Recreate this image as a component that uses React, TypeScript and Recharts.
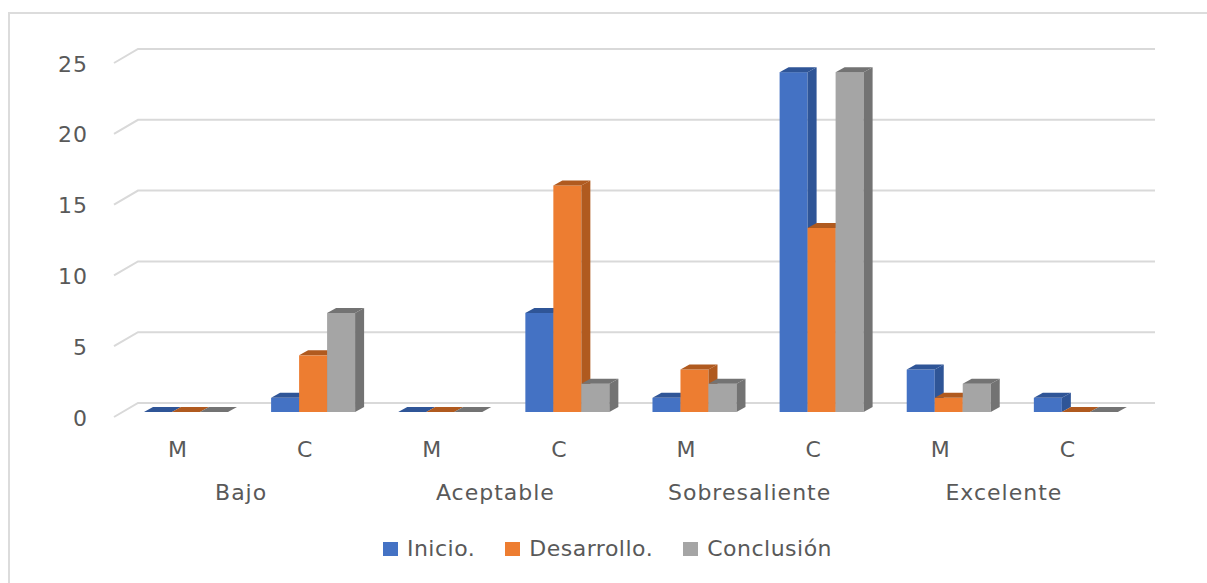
import React from "react"
import {
  BarChart,
  Bar,
  XAxis,
  YAxis,
  CartesianGrid,
  Legend,
} from "recharts"

// Niveles por categoría: M / C dentro de cada grupo
const subLabels = ["M", "C", "M", "C", "M", "C", "M", "C"]
const groupLabels = [
  "Bajo",
  "Bajo",
  "Aceptable",
  "Aceptable",
  "Sobresaliente",
  "Sobresaliente",
  "Excelente",
  "Excelente",
]
const inicio = [0, 1, 0, 7, 1, 24, 3, 1]
const desarrollo = [0, 4, 0, 16, 3, 13, 1, 0]
const conclusion = [0, 7, 0, 2, 2, 24, 2, 0]
const yTicks = [0, 5, 10, 15, 20, 25]

const series = [
  { key: "inicio", name: "Inicio.", front: "#4472c4", dark: "#2f5597" },
  { key: "desarrollo", name: "Desarrollo.", front: "#ed7d31", dark: "#b05a1f" },
  { key: "conclusion", name: "Conclusión", front: "#a5a5a5", dark: "#737373" },
]

const data = subLabels.map((sub, i) => ({
  sub,
  group: groupLabels[i],
  inicio: inicio[i],
  desarrollo: desarrollo[i],
  conclusion: conclusion[i],
}))

const W = 1199
const H = 575
const MARGIN = { top: 50, right: 67, bottom: 71, left: 35 }
const Y_AXIS_W = 80
const X_AXIS_H = 100
const PLOT_LEFT = MARGIN.left + Y_AXIS_W
const PLOT_W = W - PLOT_LEFT - MARGIN.right
const CAT_W = PLOT_W / subLabels.length

// profundidad del efecto 3D
const DX = 9
const DY = 5
// distancia entre el frente de las barras y la pared del fondo
const WALL_DX = 15
const WALL_DY = 9

const FONT = "'DejaVu Sans', sans-serif"
const TEXT = "#595959"

function make3DBar(front: string, dark: string) {
  return (props: any) => {
    const { x, y, width, height } = props
    if (x == null || y == null) return <g />
    const h = Math.max(0, height || 0)
    const r = x + width
    const b = y + h
    return (
      <g>
        <rect x={x} y={y} width={width} height={h} fill={front} />
        <polygon
          points={`${x},${y} ${x + DX},${y - DY} ${r + DX},${y - DY} ${r},${y}`}
          fill={dark}
        />
        <polygon
          points={`${r},${y} ${r + DX},${y - DY} ${r + DX},${b - DY} ${r},${b}`}
          fill={dark}
        />
      </g>
    )
  }
}

function GridLine(p: any) {
  const { x1, y1, x2 } = p
  return (
    <path
      key={p.key}
      d={`M${x1 - DX},${y1 + DY}L${x1 + WALL_DX},${y1 - WALL_DY}L${x2 + WALL_DX},${y1 - WALL_DY}`}
      stroke="#d9d9d9"
      strokeWidth={2}
      fill="none"
    />
  )
}

function YTick({ y, payload }: any) {
  return (
    <text
      x={PLOT_LEFT - 35}
      y={y + 6}
      textAnchor="end"
      dominantBaseline="central"
      fontFamily={FONT}
      fontSize={22}
      letterSpacing={1}
      fill={TEXT}
    >
      {payload.value}
    </text>
  )
}

function XTick({ x, index, payload }: any) {
  const bottom = H - MARGIN.bottom - X_AXIS_H
  const cx = x - DX
  return (
    <g>
      <text
        x={cx}
        y={bottom + 37}
        textAnchor="middle"
        dominantBaseline="central"
        fontFamily={FONT}
        fontSize={22}
        fill={TEXT}
      >
        {payload.value}
      </text>
      {index % 2 === 0 && (
        <text
          x={cx + CAT_W / 2}
          y={bottom + 80}
          textAnchor="middle"
          dominantBaseline="central"
          fontFamily={FONT}
          fontSize={22}
          letterSpacing={1}
          fill={TEXT}
        >
          {groupLabels[index]}
        </text>
      )}
    </g>
  )
}

function LegendContent() {
  return (
    <div
      style={{
        display: "flex",
        justifyContent: "center",
        gap: 30,
        fontFamily: FONT,
        fontSize: 22,
        letterSpacing: 0.5,
        color: TEXT,
        lineHeight: "26px",
      }}
    >
      {series.map((s) => (
        <span key={s.key} style={{ display: "flex", alignItems: "center", gap: 9 }}>
          <span style={{ width: 15, height: 14, background: s.front, display: "inline-block" }} />
          {s.name}
        </span>
      ))}
    </div>
  )
}

export default function App() {
  return (
    <div
      style={{
        position: "fixed",
        left: 0,
        top: 0,
        width: 1207,
        height: 583,
        overflow: "hidden",
        background: "#fff",
      }}
    >
      {/* marco del gráfico, abierto por la derecha y por abajo */}
      <div
        style={{
          position: "absolute",
          left: 8,
          top: 12,
          width: 1260,
          height: 640,
          border: "2px solid #dcdcdc",
        }}
      />
      <div style={{ position: "absolute", left: 8, top: 8 }}>
        <BarChart
          width={W}
          height={H}
          data={data}
          margin={MARGIN}
          barCategoryGap="16.5%"
          barGap={0}
        >
          <CartesianGrid vertical={false} horizontal={GridLine} />
          <XAxis
            dataKey="sub"
            height={X_AXIS_H}
            axisLine={false}
            tickLine={false}
            interval={0}
            tick={XTick}
          />
          <YAxis
            width={Y_AXIS_W}
            domain={[0, 25]}
            ticks={yTicks}
            axisLine={false}
            tickLine={false}
            tick={YTick}
          />
          {series.map((s) => (
            <Bar
              key={s.key}
              dataKey={s.key}
              name={s.name}
              fill={s.front}
              shape={make3DBar(s.front, s.dark)}
              isAnimationActive={false}
            />
          ))}
          <Legend
            layout="horizontal"
            verticalAlign="middle"
            align="center"
            content={<LegendContent />}
            wrapperStyle={{ top: 528, left: 0, width: W }}
          />
        </BarChart>
      </div>
    </div>
  )
}
